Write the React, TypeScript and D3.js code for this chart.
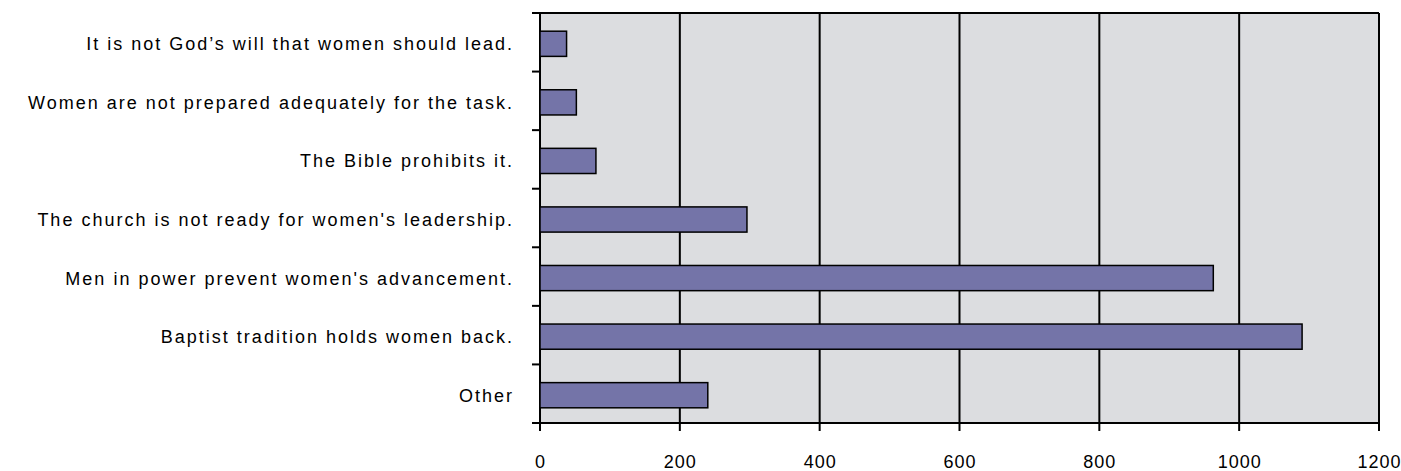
import React from "react";
import * as d3 from "d3";

const categories = [
  "It is not God’s will that women should lead.",
  "Women are not prepared adequately for the task.",
  "The Bible prohibits it.",
  "The church is not ready for women's leadership.",
  "Men in power prevent women's advancement.",
  "Baptist tradition holds women back.",
  "Other",
];
const values = [38, 52, 80, 296, 963, 1090, 240];
const xTicks = [0, 200, 400, 600, 800, 1000, 1200];

const W = 1401, H = 471;
const left = 540, right = 1379, top = 13, bottom = 423;

export default function App() {
  const x = d3.scaleLinear().domain([0, 1200]).range([left, right]);
  const y = d3.scaleBand<string>().domain(categories).range([top, bottom]).paddingInner(0).paddingOuter(0);
  const bw = y.bandwidth();
  const barH = bw * 0.43;
  const font = "'Liberation Sans', Arial, sans-serif";
  return (
    <svg width={W} height={H} style={{ position: "absolute", left: 0, top: 0 }}>
      <rect x={left} y={top} width={right - left} height={bottom - top} fill="#dcdde0" />
      {xTicks.map((t) => (
        <g key={t}>
          <line x1={x(t)} x2={x(t)} y1={top} y2={bottom + 8} stroke="#000" strokeWidth={2} />
          <text x={x(t) + 0.5} y={468} textAnchor="middle" fontFamily={font} fontSize={18} letterSpacing={1}>
            {t}
          </text>
        </g>
      ))}
      <line x1={left} x2={right} y1={top} y2={top} stroke="#000" strokeWidth={2} />
      <line x1={left - 8} x2={right} y1={bottom} y2={bottom} stroke="#000" strokeWidth={2} />
      {categories.map((c, i) => (
        <g key={c}>
          <line x1={left - 8} x2={left} y1={y(c)!} y2={y(c)!} stroke="#000" strokeWidth={2} />
          <rect
            x={x(0)}
            y={y(c)! + bw / 2 - barH / 2 + 1.5}
            width={x(values[i]) - x(0)}
            height={barH}
            fill="#7474a8"
            stroke="#000"
            strokeWidth={1.5}
          />
          <text
            x={514}
            y={y(c)! + bw / 2 + 8}
            textAnchor="end"
            fontFamily={font}
            fontSize={18}
            letterSpacing={2}
          >
            {c}
          </text>
        </g>
      ))}
    </svg>
  );
}
